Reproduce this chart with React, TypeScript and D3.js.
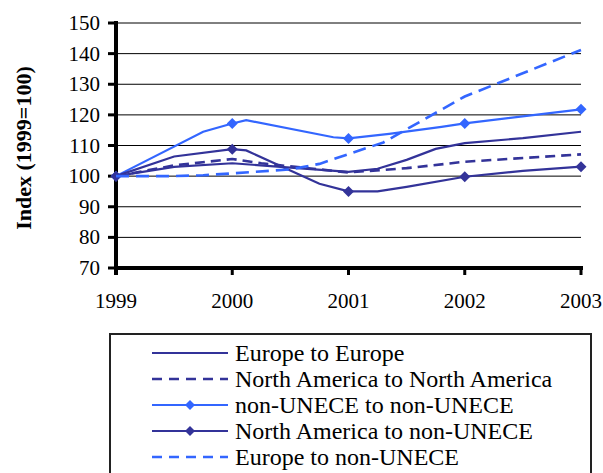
import React from "react";
import * as d3 from "d3";

const yearTicks = [1999, 2000, 2001, 2002, 2003];
const valueTicks = [70, 80, 90, 100, 110, 120, 130, 140, 150];

// Europe to Europe
const euToEuX = [1999, 1999.5, 2000, 2000.5, 2001, 2001.25, 2001.5, 2001.75, 2002, 2002.5, 2003];
const euToEuY = [100, 103, 104.2, 102.8, 101.4, 102.4, 105.3, 108.9, 110.8, 112.4, 114.5];
// North America to North America
const naToNaX = [1999, 1999.5, 2000, 2000.25, 2000.6, 2001, 2001.5, 2002, 2003];
const naToNaY = [100, 103.5, 105.6, 104.2, 102.8, 101.2, 102.6, 104.7, 107.1];
// non-UNECE to non-UNECE
const nonToNonX = [1999, 1999.75, 2000, 2000.12, 2000.87, 2001, 2001.35, 2001.8, 2002, 2003];
const nonToNonY = [100, 114.5, 117.2, 118.3, 112.7, 112.3, 113.8, 116.1, 117.2, 121.8];
// North America to non-UNECE
const naToNonX = [1999, 1999.5, 2000, 2000.12, 2000.75, 2001, 2001.25, 2001.5, 2002, 2002.5, 2003];
const naToNonY = [100, 106.4, 108.8, 108.4, 97.5, 95, 95, 96.5, 99.8, 101.7, 103.1];
// Europe to non-UNECE
const euToNonX = [1999, 1999.5, 1999.75, 2000, 2000.5, 2000.75, 2001, 2001.3, 2002, 2003];
const euToNonY = [100, 100, 100.3, 100.9, 102.2, 104, 107.2, 111, 126, 141.2];

const seriesNames = [
  "Europe to Europe",
  "North America to North America",
  "non-UNECE to non-UNECE",
  "North America to non-UNECE",
  "Europe to non-UNECE",
];

const DARK = "#333399";
const LIGHT = "#3366FF";

const seriesData = [
  { name: seriesNames[0], xs: euToEuX, ys: euToEuY, color: DARK, dash: "", marker: false, markAt: [] as number[] },
  { name: seriesNames[1], xs: naToNaX, ys: naToNaY, color: DARK, dash: "10,6", marker: false, markAt: [] as number[] },
  { name: seriesNames[2], xs: nonToNonX, ys: nonToNonY, color: LIGHT, dash: "", marker: true, markAt: yearTicks },
  { name: seriesNames[3], xs: naToNonX, ys: naToNonY, color: DARK, dash: "", marker: true, markAt: yearTicks },
  { name: seriesNames[4], xs: euToNonX, ys: euToNonY, color: LIGHT, dash: "13,7", marker: false, markAt: [] as number[] },
];

const FONT = "'Liberation Serif', 'DejaVu Serif', serif";

export default function App() {
  const W = 603, H = 473;
  const x = d3.scaleLinear().domain([1999, 2003]).range([116, 581]);
  const y = d3.scaleLinear().domain([70, 150]).range([268, 23]);
  const line = d3
    .line<[number, number]>()
    .x((d) => x(d[0]))
    .y((d) => y(d[1]))
    .curve(d3.curveLinear);

  const diamond = (cx: number, cy: number, r: number) =>
    `M${cx},${cy - r}L${cx + r},${cy}L${cx},${cy + r}L${cx - r},${cy}Z`;

  const legX0 = 152, legX1 = 228, legTextX = 235, legY0 = 353, legDy = 26;

  return (
    <svg
      width={W}
      height={H}
      style={{ position: "absolute", left: 0, top: 0, background: "#fff" }}
      fontFamily={FONT}
    >
      {/* gridlines */}
      {valueTicks.slice(1).map((v) => (
        <line key={"g" + v} x1={x(1999)} x2={x(2003)} y1={y(v)} y2={y(v)} stroke="#000" strokeWidth={1} />
      ))}
      {/* y ticks */}
      {valueTicks.map((v) => (
        <g key={"yt" + v}>
          <line x1={108} x2={116} y1={y(v)} y2={y(v)} stroke="#000" strokeWidth={3} />
          <text x={100} y={y(v)} textAnchor="end" dominantBaseline="central" fontSize={21} fill="#000">
            {v}
          </text>
        </g>
      ))}
      {/* x ticks */}
      {yearTicks.map((t) => (
        <g key={"xt" + t}>
          <line x1={x(t)} x2={x(t)} y1={268} y2={275} stroke="#000" strokeWidth={3} />
          <text x={x(t)} y={301} textAnchor="middle" dominantBaseline="central" fontSize={21} fill="#000">
            {t}
          </text>
        </g>
      ))}
      {/* axes */}
      <line x1={x(1999)} x2={x(1999)} y1={y(150) - 2} y2={275} stroke="#000" strokeWidth={4} />
      <line x1={x(1999) - 2} x2={x(2003) + 2} y1={y(70)} y2={y(70)} stroke="#000" strokeWidth={4} />

      {/* series */}
      {seriesData.map((s) => {
        const pts: [number, number][] = s.xs.map((xv, i) => [xv, s.ys[i]]);
        return (
          <g key={s.name}>
            <path
              d={line(pts) || ""}
              fill="none"
              stroke={s.color}
              strokeWidth={s.dash ? 2.6 : 2.2}
              strokeDasharray={s.dash || undefined}
            />
            {s.marker &&
              pts
                .filter((p) => s.markAt.includes(p[0]))
                .map((p) => <path key={p[0]} d={diamond(x(p[0]), y(p[1]), 5.5)} fill={s.color} />)}
          </g>
        );
      })}

      {/* y axis title */}
      <text
        transform={`translate(23,148) rotate(-90)`}
        textAnchor="middle"
        dominantBaseline="central"
        fontSize={22}
        fontWeight="bold"
        fill="#000"
      >
        Index (1999=100)
      </text>

      {/* legend */}
      <rect x={110} y={334} width={481} height={160} fill="#fff" stroke="#222" strokeWidth={2} />
      {seriesData.map((s, i) => {
        const ly = legY0 + i * legDy;
        return (
          <g key={"l" + s.name}>
            <line
              x1={legX0}
              x2={legX1}
              y1={ly}
              y2={ly}
              stroke={s.color}
              strokeWidth={s.dash ? 2.6 : 2.2}
              strokeDasharray={s.dash ? "10,7" : undefined}
            />
            {s.marker && <path d={diamond((legX0 + legX1) / 2, ly, 5)} fill={s.color} />}
            <text x={legTextX} y={ly} dominantBaseline="central" fontSize={24} fill="#000">
              {s.name}
            </text>
          </g>
        );
      })}
    </svg>
  );
}
